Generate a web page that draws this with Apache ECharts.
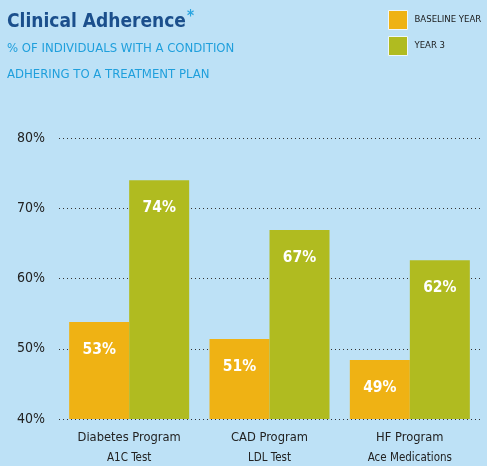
<!DOCTYPE html>
<html>
<head>
<meta charset="utf-8">
<script src="https://cdn.jsdelivr.net/npm/echarts@6/dist/echarts.min.js"></script>
<style>
  html, body { margin: 0; padding: 0; background: #bde1f6; }
  #main { width: 487px; height: 466px; }
</style>
</head>
<body>
<div id="main"></div>
<script>
var programs = ['Diabetes Program', 'CAD Program', 'HF Program'];
var measures = ['A1C Test', 'LDL Test', 'Ace Medications'];
var baseline = [53.8, 51.4, 48.4];
var year3 = [74, 66.9, 62.6];
var baselineLabels = ['53%', '51%', '49%'];
var year3Labels = ['74%', '67%', '62%'];

var chartDom = document.getElementById('main');
var myChart = echarts.init(chartDom);
var font = '"DejaVu Sans Condensed", sans-serif';

var option = {
    backgroundColor: '#bde1f6',
    textStyle: { fontFamily: font },
    title: [{
        text: 'Clinical Adherence{a|*}',
        left: 7, top: 10, padding: 0,
        textStyle: {
            fontFamily: font, fontSize: 19, fontWeight: 'bold', color: '#1b4f8c',
            rich: { a: { fontFamily: font, fontSize: 15, color: '#2aa5e0', verticalAlign: 'top', padding: [0, 0, 10, 1] } }
        }
    }, {
        text: '% OF INDIVIDUALS WITH A CONDITION\nADHERING TO A TREATMENT PLAN',
        left: 7, top: 36, padding: 0,
        textStyle: { fontFamily: font, fontSize: 13, fontWeight: 'normal', color: '#1f9fdc', lineHeight: 26 }
    }],
    legend: {
        orient: 'vertical',
        left: 388, top: 10, padding: 0,
        itemWidth: 19, itemHeight: 19, itemGap: 6,
        icon: 'rect',
        itemStyle: { borderColor: '#eef6fb', borderWidth: 1 },
        textStyle: { fontFamily: font, fontSize: 9.5, color: '#1a1a1a', padding: [0, 0, 0, 2] },
        data: ['BASELINE YEAR', 'YEAR 3']
    },
    grid: { left: 59, right: 7, top: 138, bottom: 47 },
    xAxis: {
        type: 'category',
        data: programs,
        axisLine: { show: false },
        axisTick: { show: false },
        axisLabel: {
            interval: 0,
            margin: 9,
            formatter: function (v, i) { return '{a|' + v + '}\n{b|' + measures[i] + '}'; },
            rich: {
                a: { fontFamily: font, fontSize: 12.8, color: '#222', lineHeight: 20 },
                b: { fontFamily: font, fontSize: 11.5, color: '#222', lineHeight: 20 }
            }
        }
    },
    yAxis: {
        type: 'value',
        min: 40, max: 80, interval: 10,
        axisLine: { show: false },
        axisTick: { show: false },
        axisLabel: { formatter: '{value}%', fontFamily: font, fontSize: 14, color: '#222', margin: 14 },
        splitLine: { lineStyle: { type: [1, 3], color: '#333', width: 1 } }
    },
    series: [{
        name: 'BASELINE YEAR',
        type: 'bar',
        data: baseline,
        barWidth: 60,
        barGap: '0%',
        itemStyle: { color: '#efb214' },
        label: {
            show: true, position: 'insideTop', distance: 20,
            formatter: function (p) { return baselineLabels[p.dataIndex]; },
            fontFamily: font, fontSize: 15.5, fontWeight: 'bold', color: '#fff'
        }
    }, {
        name: 'YEAR 3',
        type: 'bar',
        data: year3,
        barWidth: 60,
        itemStyle: { color: '#b0bb20' },
        label: {
            show: true, position: 'insideTop', distance: 20,
            formatter: function (p) { return year3Labels[p.dataIndex]; },
            fontFamily: font, fontSize: 15.5, fontWeight: 'bold', color: '#fff'
        }
    }]
};

option && myChart.setOption(option);
</script>
</body>
</html>
